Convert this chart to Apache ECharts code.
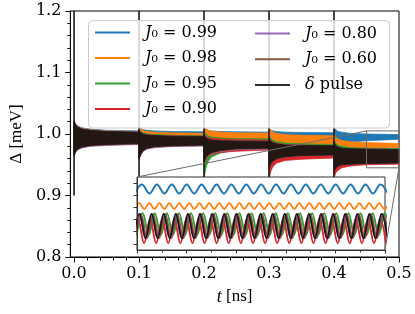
<!DOCTYPE html>
<html><head><meta charset="utf-8">
<script src="https://cdn.jsdelivr.net/npm/echarts@6/dist/echarts.min.js"></script>
<style>html,body{margin:0;padding:0;background:#fff}#c{width:415px;height:314px}</style>
</head><body><div id="c"></div>
<script>
// ---------- data ----------
const seriesNames = ['J0 = 0.99','J0 = 0.98','J0 = 0.95','J0 = 0.90','J0 = 0.80','J0 = 0.60','delta pulse'];
const legendLabels = ['{g| }{i|J}₀ = 0.99','{g| }{i|J}₀ = 0.98','{g| }{i|J}₀ = 0.95','{g| }{i|J}₀ = 0.90',
                      '{g| }{i|J}₀ = 0.80','{g| }{i|J}₀ = 0.60','{g| }{i|δ} pulse'];
const colors = ['#1f77b4','#ff7f0e','#2ca02c','#d62728','#9467bd','#8c564b','rgba(0,0,0,0.82)'];
const bandColors = ['#1f77b4','#ff7f0e','#2ca02c','#d62728','#9467bd','#8c564b','#221713'];

const xTicks = [0,0.1,0.2,0.3,0.4,0.5];
const xMinorTicks = [0,0.02,0.04,0.06,0.08,0.1,0.12,0.14,0.16,0.18,0.2,0.22,0.24,0.26,0.28,0.3,0.32,0.34,0.36,0.38,0.4,0.42,0.44,0.46,0.48,0.5];
const insetYTicks = [0.95,0.96,0.97,0.98,0.99,1.0];

// pulses (delta kicks) and the vertical spike they draw
const pulseT = [0,0.1,0.2,0.3,0.4];
const pulseLow = [0.900,0.884,0.870,0.860,0.850];
const pulseHigh = [1.2,1.2,1.2,1.2,1.2];

// envelope sample offsets after each pulse (ns)
const OFF = [0,0.003,0.006,0.012,0.025,0.05,0.1];

// upper / lower envelopes of the dense oscillation, 7 samples per pulse segment
const blueU = [1.022,1.016,1.013,1.010,1.008,1.006,1.005,
  1.012,1.009,1.007,1.006,1.005,1.004,1.0035,
  1.010,1.008,1.006,1.005,1.004,1.0035,1.003,
  1.008,1.006,1.005,1.004,1.003,1.0025,1.002,
  1.010,1.007,1.004,1.003,1.001,1.000,0.999];
const blueL = [0.965,0.972,0.975,0.978,0.981,0.9825,0.984,
  0.960,0.968,0.973,0.978,0.981,0.984,0.986,
  0.960,0.970,0.975,0.980,0.983,0.986,0.988,
  0.962,0.972,0.977,0.982,0.985,0.988,0.990,
  0.965,0.974,0.979,0.983,0.987,0.989,0.9915];
const orangeU = [1.021,1.015,1.012,1.009,1.007,1.005,1.004,
  1.012,1.008,1.006,1.004,1.003,1.002,1.001,
  1.011,1.008,1.006,1.0045,1.003,1.002,1.0015,
  1.012,1.006,1.003,1.001,0.999,0.998,0.997,
  1.000,0.995,0.992,0.9895,0.9875,0.986,0.9845];
const orangeL = [0.965,0.972,0.975,0.978,0.981,0.9825,0.984,
  0.960,0.968,0.973,0.977,0.9795,0.982,0.984,
  0.955,0.964,0.970,0.974,0.977,0.980,0.982,
  0.955,0.964,0.969,0.972,0.976,0.978,0.980,
  0.960,0.966,0.970,0.972,0.975,0.9765,0.978];
const greenU = [1.020,1.014,1.011,1.008,1.006,1.004,1.003,
  1.008,1.004,1.002,1.0003,0.999,0.998,0.997,
  1.004,1.000,0.997,0.995,0.9935,0.9925,0.992,
  0.998,0.993,0.990,0.9875,0.9855,0.984,0.983,
  0.990,0.985,0.982,0.980,0.978,0.977,0.9765];
const greenL = [0.965,0.972,0.975,0.978,0.981,0.9825,0.984,
  0.960,0.968,0.973,0.977,0.9795,0.981,0.982,
  0.928,0.945,0.955,0.963,0.969,0.974,0.977,
  0.945,0.952,0.956,0.960,0.962,0.964,0.966,
  0.945,0.949,0.951,0.953,0.954,0.955,0.956];
const redU = [1.020,1.014,1.011,1.008,1.006,1.004,1.003,
  1.006,1.0025,1.0005,0.999,0.998,0.997,0.996,
  1.000,0.9965,0.9945,0.993,0.992,0.991,0.990,
  0.994,0.9895,0.987,0.985,0.983,0.982,0.981,
  0.986,0.981,0.978,0.9755,0.9735,0.972,0.9715];
const redL = [0.965,0.972,0.975,0.978,0.981,0.9825,0.984,
  0.960,0.968,0.973,0.977,0.9795,0.981,0.982,
  0.950,0.958,0.963,0.967,0.970,0.972,0.974,
  0.928,0.940,0.947,0.953,0.957,0.959,0.961,
  0.930,0.937,0.941,0.945,0.948,0.950,0.951];
const purpleU = [1.020,1.014,1.011,1.008,1.006,1.004,1.003,
  1.005,1.002,1.000,0.9985,0.9975,0.9965,0.996,
  0.998,0.994,0.992,0.990,0.989,0.9885,0.988,
  0.992,0.988,0.986,0.984,0.982,0.9815,0.981,
  0.986,0.981,0.979,0.977,0.976,0.9755,0.975];
const purpleL = [0.9644,0.9714,0.9744,0.9774,0.9799,0.9814,0.9829,
  0.9584,0.9664,0.9714,0.9754,0.9779,0.9794,0.9804,
  0.9534,0.9604,0.9644,0.9684,0.9714,0.9744,0.9754,
  0.945,0.952,0.956,0.960,0.963,0.965,0.966,
  0.940,0.945,0.948,0.950,0.951,0.952,0.953];
const brownU = [1.020,1.014,1.011,1.008,1.006,1.004,1.003,
  1.005,1.002,1.000,0.9985,0.9975,0.9965,0.996,
  0.998,0.994,0.992,0.990,0.989,0.9885,0.988,
  0.992,0.988,0.986,0.984,0.982,0.9815,0.981,
  0.986,0.981,0.979,0.977,0.976,0.9755,0.975];
const brownL = [0.9652,0.9722,0.9752,0.9782,0.9807,0.9822,0.9837,
  0.9592,0.9672,0.9722,0.9762,0.9787,0.9802,0.9812,
  0.9542,0.9612,0.9652,0.9692,0.9722,0.9752,0.9762,
  0.945,0.952,0.956,0.960,0.963,0.965,0.966,
  0.940,0.945,0.948,0.950,0.951,0.952,0.953];
const blackU = [1.020,1.014,1.011,1.008,1.006,1.004,1.003,
  1.005,1.002,1.000,0.9985,0.9975,0.9965,0.996,
  0.998,0.994,0.992,0.990,0.989,0.9885,0.988,
  0.992,0.988,0.986,0.984,0.982,0.9815,0.981,
  0.986,0.981,0.979,0.977,0.976,0.9755,0.975];
const blackL = [0.966,0.973,0.976,0.979,0.9815,0.983,0.9845,
  0.960,0.968,0.973,0.977,0.9795,0.981,0.982,
  0.955,0.962,0.966,0.970,0.973,0.976,0.977,
  0.945,0.952,0.956,0.960,0.963,0.965,0.966,
  0.940,0.945,0.948,0.950,0.951,0.952,0.953];

// inset window
const insetX = [0.45,0.5];
const insetY = [0.945,1.005];

// inset waves: time of first extremum, half period, successive extrema (trough, peak, ...)
const blueInsetStart = 0.449506, blueInsetHalf = 0.001502;
const blueInsetExt = [0.9915,0.9988,0.9915,0.9988,0.9915,0.9988,0.9915,0.9988,0.9915,0.9988,0.9915,0.9988,0.9915,0.9988,0.9915,0.9988,0.9915,0.9988,0.9915,0.9988,0.9915,0.9988,0.9915,0.9988,0.9915,0.9988,0.9915,0.9988,0.9915,0.9988,0.9915,0.9988,0.9915,0.9988,0.9915];
const orangeInsetStart = 0.449456, orangeInsetHalf = 0.001008;
const orangeInsetExt = [0.9786,0.9835,0.9786,0.9835,0.9786,0.9835,0.9786,0.9835,0.9786,0.9835,0.9786,0.9835,0.9786,0.9835,0.9786,0.9835,0.9786,0.9835,0.9786,0.9835,0.9786,0.9835,0.9786,0.9835,0.9786,0.9835,0.9786,0.9835,0.9786,0.9835,0.9786,0.9835,0.9786,0.9835,0.9786,0.9835,0.9786,0.9835,0.9786,0.9835,0.9786,0.9835,0.9786,0.9835,0.9786,0.9835,0.9786,0.9835,0.9786,0.9835,0.9786,0.9835];
const greenInsetStart = 0.44993, greenInsetHalf = 0.00122;
const greenInsetExt = [0.9573,0.9753,0.9573,0.9753,0.9573,0.9753,0.9573,0.9753,0.9573,0.9753,0.9573,0.9753,0.9573,0.9753,0.9573,0.9753,0.9573,0.9753,0.9573,0.9753,0.9573,0.9753,0.9573,0.9753,0.9573,0.9753,0.9573,0.9753,0.9573,0.9753,0.9573,0.9753,0.9573,0.9753,0.9573,0.9753,0.9573,0.9753,0.9573,0.9753,0.9573,0.9753,0.9573];
const redInsetStart = 0.448982, redInsetHalf = 0.00122;
const redInsetExt = [0.9505,0.9706,0.9505,0.9706,0.9505,0.9706,0.9505,0.9706,0.9505,0.9706,0.9505,0.9706,0.9505,0.9706,0.9505,0.9706,0.9505,0.9706,0.9505,0.9706,0.9505,0.9706,0.9505,0.9706,0.9505,0.9706,0.9505,0.9706,0.9505,0.9706,0.9505,0.9706,0.9505,0.9706,0.9505,0.9706,0.9505,0.9706,0.9505,0.9706,0.9505,0.9706,0.9505];
const purpleInsetStart = 0.449284, purpleInsetHalf = 0.00122;
const purpleInsetExt = [0.9546,0.9747,0.9546,0.9747,0.9546,0.9747,0.9546,0.9747,0.9546,0.9747,0.9546,0.9747,0.9546,0.9747,0.9546,0.9747,0.9546,0.9747,0.9546,0.9747,0.9546,0.9747,0.9546,0.9747,0.9546,0.9747,0.9546,0.9747,0.9546,0.9747,0.9546,0.9747,0.9546,0.9747,0.9546,0.9747,0.9546,0.9747,0.9546,0.9747,0.9546,0.9747,0.9546];
const brownInsetStart = 0.449584, brownInsetHalf = 0.00122;
const brownInsetExt = [0.9546,0.9747,0.9546,0.9747,0.9546,0.9747,0.9546,0.9747,0.9546,0.9747,0.9546,0.9747,0.9546,0.9747,0.9546,0.9747,0.9546,0.9747,0.9546,0.9747,0.9546,0.9747,0.9546,0.9747,0.9546,0.9747,0.9546,0.9747,0.9546,0.9747,0.9546,0.9747,0.9546,0.9747,0.9546,0.9747,0.9546,0.9747,0.9546,0.9747,0.9546,0.9747,0.9546];
const blackInsetStart = 0.449284, blackInsetHalf = 0.00122;
const blackInsetExt = [0.9546,0.9747,0.9546,0.9747,0.9546,0.9747,0.9546,0.9747,0.9546,0.9747,0.9546,0.9747,0.9546,0.9747,0.9546,0.9747,0.9546,0.9747,0.9546,0.9747,0.9546,0.9747,0.9546,0.9747,0.9546,0.9747,0.9546,0.9747,0.9546,0.9747,0.9546,0.9747,0.9546,0.9747,0.9546,0.9747,0.9546,0.9747,0.9546,0.9747,0.9546,0.9747,0.9546];

// ---------- build ----------
const envU = [blueU,orangeU,greenU,redU,purpleU,brownU,blackU];
const envL = [blueL,orangeL,greenL,redL,purpleL,brownL,blackL];
const insetStart = [blueInsetStart,orangeInsetStart,greenInsetStart,redInsetStart,purpleInsetStart,brownInsetStart,blackInsetStart];
const insetHalf = [blueInsetHalf,orangeInsetHalf,greenInsetHalf,redInsetHalf,purpleInsetHalf,brownInsetHalf,blackInsetHalf];
const insetExt = [blueInsetExt,orangeInsetExt,greenInsetExt,redInsetExt,purpleInsetExt,brownInsetExt,blackInsetExt];
const NS = OFF.length;

const chart = echarts.init(document.getElementById('c'), null, {renderer:'canvas'});
const series = [];
// inset lines first (legend icons come from them)
for (let s = 0; s < 7; s++) {
  series.push({
    type:'line', name: seriesNames[s], xAxisIndex:2, yAxisIndex:1,
    data: insetExt[s].map((v,i)=>[insetStart[s]+i*insetHalf[s], v]),
    showSymbol:false, symbol:'none', smooth:0.36, clip:true,
    lineStyle:{color: colors[s], width:1.9},
    itemStyle:{color: colors[s]}, z:12, silent:true
  });
}
// main envelope bands
for (let s = 0; s < 7; s++) {
  const U = envU[s], L = envL[s], col = bandColors[s];
  const data = pulseT.map((t,k)=>{
    const seg = U.slice(k*NS,(k+1)*NS).concat(L.slice(k*NS,(k+1)*NS));
    return [t, Math.min.apply(null,seg), t+OFF[NS-1], Math.max.apply(null,seg), k];
  });
  series.push({
    type:'custom', name: seriesNames[s], xAxisIndex:0, yAxisIndex:0, clip:true, silent:true, z:2,
    encode:{x:[0,2], y:[1,3]}, data,
    itemStyle:{color: colors[s]},
    renderItem:(params, api)=>{
      const k = api.value(4), t0 = pulseT[k], pts = [];
      for (let j=0;j<NS;j++) pts.push(api.coord([t0+OFF[j], U[k*NS+j]]));
      for (let j=NS-1;j>=0;j--) pts.push(api.coord([t0+OFF[j], L[k*NS+j]]));
      return {type:'polygon', shape:{points:pts}, style:{fill:col, stroke:col, lineWidth:0.8}};
    }
  });
}
// delta spikes
series.push({
  type:'custom', name: seriesNames[6], xAxisIndex:0, yAxisIndex:0, clip:true, silent:true, z:3,
  encode:{x:0, y:[1,2]},
  data: pulseT.map((t,k)=>[t, pulseLow[k], pulseHigh[k]]),
  renderItem:(params, api)=>{
    const a = api.coord([api.value(0), api.value(1)]);
    const b = api.coord([api.value(0), api.value(2)]);
    return {type:'line', shape:{x1:a[0],y1:a[1],x2:b[0],y2:b[1]}, style:{stroke:'#1c1512', lineWidth:1.6}};
  }
});
// zoom rectangle on the main axes
series.push({
  type:'line', name:'zoomRect', xAxisIndex:0, yAxisIndex:0, symbol:'none', silent:true, z:20, clip:false,
  data:[[insetX[0],insetY[1]],[insetX[1],insetY[1]],[insetX[1],insetY[0]],[insetX[0],insetY[0]],[insetX[0],insetY[1]]],
  lineStyle:{color:'#6b6b6b', width:1}
});

const serif = 'DejaVu Serif';
const legendText = {
  fontFamily: serif, fontSize:16, color:'#000', lineHeight:20,
  rich:{ g:{width:10, fontSize:16, fontFamily:serif}, i:{fontStyle:'italic', fontFamily:serif, fontSize:16, color:'#000'} }
};
const fmt = name => legendLabels[seriesNames.indexOf(name)];
const legendCommon = {orient:'vertical', padding:0, itemWidth:35, itemHeight:2, icon:'rect',
  selectedMode:false, z:60, formatter:fmt, textStyle:legendText, itemStyle:{borderWidth:0}};

const option = {
  animation:false,
  backgroundColor:'#fff',
  grid:[
    {left:63, right:16, top:11, bottom:57, show:true, borderColor:'#000', borderWidth:1, backgroundColor:'transparent'},
    {left:137, top:177, width:248, height:73, show:true, borderColor:'#333', borderWidth:1, backgroundColor:'#fff', z:11}
  ],
  xAxis:[
    {type:'value', gridIndex:0, min:-0.0057, max:0.5, position:'bottom',
     axisLine:{show:true, onZero:false, lineStyle:{color:'#000', width:1}},
     axisTick:{show:true, customValues:xTicks, length:5.5, lineStyle:{color:'#000', width:1}},
     axisLabel:{customValues:xTicks, formatter:v=>v.toFixed(1), margin:9, fontFamily:serif, fontSize:16, color:'#000'},
     splitLine:{show:false},
     name:'{i|t} [ns]', nameLocation:'middle', nameGap:31,
     nameTextStyle:{fontFamily:'Liberation Serif', fontSize:17, color:'#000',
       rich:{i:{fontStyle:'italic', fontFamily:'Liberation Serif', fontSize:18, color:'#000'}}}},
    {type:'value', gridIndex:0, min:-0.0057, max:0.5, position:'bottom',
     axisLine:{show:false, onZero:false},
     axisTick:{show:true, customValues:xMinorTicks, length:3.5, lineStyle:{color:'#000', width:1}},
     axisLabel:{show:false}, splitLine:{show:false}},
    {type:'value', gridIndex:1, min:insetX[0], max:insetX[1], interval:0.01, position:'bottom', z:13,
     axisLine:{show:true, onZero:false, lineStyle:{color:'#333', width:1}},
     axisTick:{show:true, length:3.5, lineStyle:{color:'#333', width:1}},
     minorTick:{show:true, splitNumber:2, length:2.5, lineStyle:{color:'#333', width:1}},
     axisLabel:{show:false}, splitLine:{show:false}}
  ],
  yAxis:[
    {type:'value', gridIndex:0, min:0.8, max:1.2, interval:0.1,
     axisLine:{show:true, onZero:false, lineStyle:{color:'#000', width:1}},
     axisTick:{show:true, length:5, lineStyle:{color:'#000', width:1}},
     minorTick:{show:true, splitNumber:5, length:3, lineStyle:{color:'#000', width:1}},
     axisLabel:{formatter:v=>v.toFixed(1), margin:9, fontFamily:serif, fontSize:16, color:'#000'},
     splitLine:{show:false},
     name:'Δ [meV]', nameLocation:'middle', nameGap:40, nameRotate:90,
     nameTextStyle:{fontFamily:'Liberation Serif', fontSize:17, color:'#000'}},
    {type:'value', gridIndex:1, min:insetY[0], max:insetY[1], z:13,
     axisLine:{show:true, onZero:false, lineStyle:{color:'#333', width:1}},
     axisTick:{show:true, customValues:insetYTicks, length:3.5, lineStyle:{color:'#333', width:1}},
     axisLabel:{show:false}, splitLine:{show:false}}
  ],
  legend:[
    Object.assign({data:seriesNames.slice(0,4), left:95, top:22.4, itemGap:5.5}, legendCommon),
    Object.assign({data:seriesNames.slice(4,7), left:255, top:23.4, itemGap:5.8}, legendCommon)
  ],
  series
};
chart.setOption(option);

// inset connector lines and legend frame
const zoomIdx = series.length-1;
const p1 = chart.convertToPixel({seriesIndex:zoomIdx}, [insetX[0], insetY[1]]);
const q1 = chart.convertToPixel({seriesIndex:0}, [insetX[0], insetY[1]]);
const p2 = chart.convertToPixel({seriesIndex:zoomIdx}, [insetX[1], insetY[0]]);
const q2 = chart.convertToPixel({seriesIndex:0}, [insetX[1], insetY[0]]);
chart.setOption({
  graphic:{elements:[
    {type:'rect', z:50, silent:true, shape:{x:88.5, y:20.5, width:301, height:107.5, r:4},
     style:{fill:'rgba(255,255,255,0.8)', stroke:'#cccccc', lineWidth:1}},
    {type:'line', z:20, silent:true, shape:{x1:p1[0],y1:p1[1],x2:q1[0],y2:q1[1]}, style:{stroke:'#6b6b6b', lineWidth:1}},
    {type:'line', z:20, silent:true, shape:{x1:p2[0],y1:p2[1],x2:q2[0],y2:q2[1]}, style:{stroke:'#6b6b6b', lineWidth:1}}
  ]}
});
</script>
</body></html>
